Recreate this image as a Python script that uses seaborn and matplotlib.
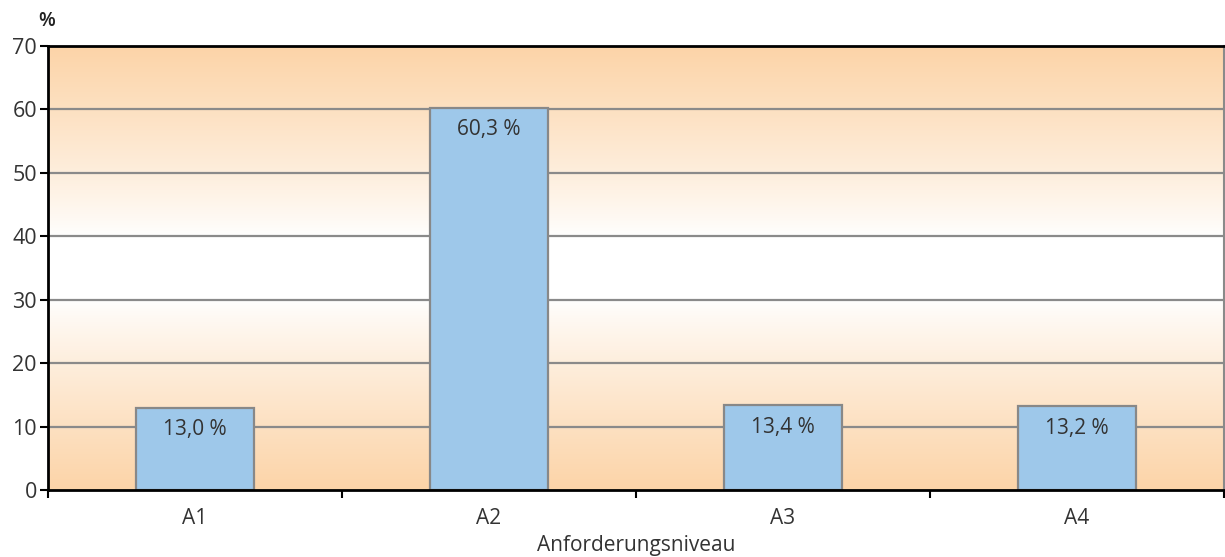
import numpy as np
import pandas as pd
import matplotlib
matplotlib.use("Agg")
import matplotlib.pyplot as plt
import seaborn as sns
from matplotlib.ticker import FixedLocator

categories = ["A1", "A2", "A3", "A4"]
values = [13.0, 60.3, 13.4, 13.2]
labels = ["13,0 %", "60,3 %", "13,4 %", "13,2 %"]
yticks = [0, 10, 20, 30, 40, 50, 60, 70]

sns.set_style("white")
plt.rcParams['font.family'] = ['Open Sans', 'DejaVu Sans']

fig = plt.figure(figsize=(12.25, 5.57), dpi=100)
ax = fig.add_axes([48/1225, 1-490/557, (1224-48)/1225, (490-46)/557])

df = pd.DataFrame({"cat": categories, "val": values})

# background gradient: white in the middle band, orange towards top and bottom
vals = np.linspace(0, 70, 700)
t = np.clip((np.abs(vals - 35) - 5) / 30, 0, 1) ** 0.85
orange = np.array([252, 212, 168]) / 255
white = np.array([1.0, 1.0, 1.0])
grad = white[None, :] * (1 - t[:, None]) + orange[None, :] * t[:, None]
ax.imshow(grad[:, None, :], extent=[-0.5, 3.5, 0, 70], origin="lower",
          aspect="auto", zorder=0, interpolation="bilinear")

for y in yticks[1:-1]:
    ax.axhline(y, color="#8a8a8a", lw=1.6, zorder=1)

sns.barplot(data=df, x="cat", y="val", color="#9ec8ea", width=0.4,
            edgecolor="#888888", linewidth=1.6, saturation=1, ax=ax, zorder=2)

for i, (v, lab) in enumerate(zip(values, labels)):
    ax.text(i, v - 3.5, lab, ha="center", va="center", fontsize=15,
            color="#333333", zorder=3)

ax.set_xlim(-0.5, 3.5)
ax.set_ylim(0, 70)
ax.set_yticks(yticks)
ax.set_yticklabels([str(y) for y in yticks], fontsize=15.5, color="#333333")
ax.tick_params(axis="y", direction="out", length=6, width=1.5, color="black", pad=2, left=True)
ax.xaxis.set_minor_locator(FixedLocator([-0.5, 0.5, 1.5, 2.5, 3.5]))
ax.tick_params(axis="x", which="major", length=0, labelsize=15, pad=13, labelcolor="#333333")
ax.tick_params(axis="x", which="minor", length=6, width=1.5, color="black", direction="out", bottom=True)
ax.set_xlabel("Anforderungsniveau", fontsize=15, color="#333333", labelpad=4)
ax.set_ylabel("")

for side in ["top", "bottom", "left"]:
    ax.spines[side].set_visible(True)
    ax.spines[side].set_color("black")
    ax.spines[side].set_linewidth(2)
ax.spines["right"].set_visible(True)
ax.spines["right"].set_color("#8a8a8a")
ax.spines["right"].set_linewidth(1.5)

fig.text(38/1225, 1-21/557, "%", fontsize=14, color="#222222", ha="left", va="center",
         fontweight="semibold")

fig.savefig("out.png", dpi=100)
